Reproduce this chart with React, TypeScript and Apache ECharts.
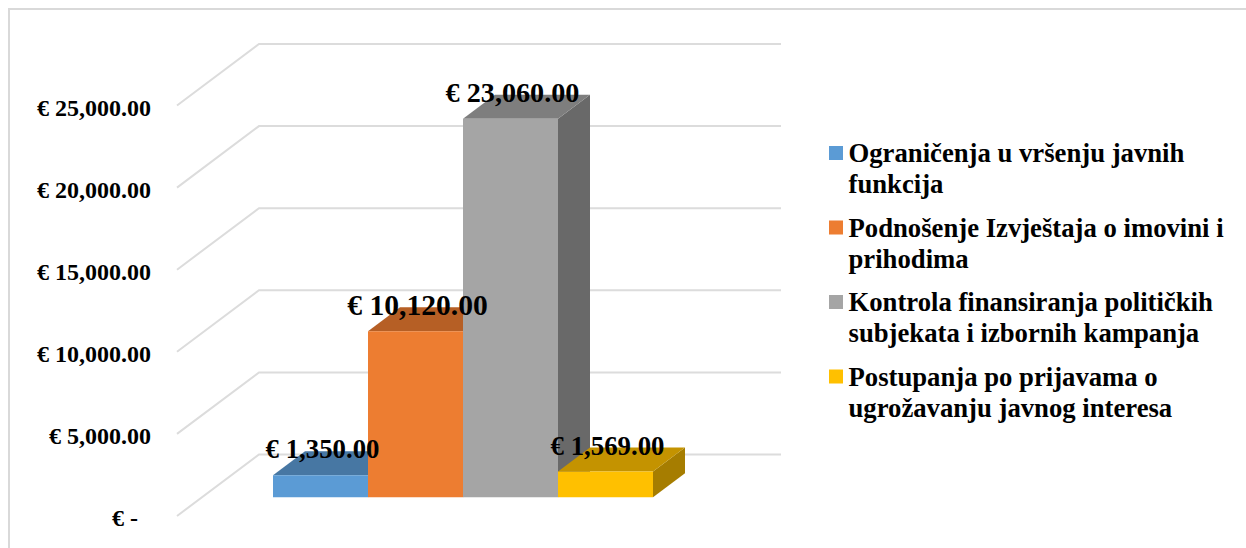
import React, { useEffect, useRef } from "react";
import * as echarts from "echarts";

const categories = ["Iznos"];
const seriesNames = [
  "Ograničenja u vršenju javnih\nfunkcija",
  "Podnošenje Izvještaja o imovini i\nprihodima",
  "Kontrola finansiranja političkih\nsubjekata i izbornih kampanja",
  "Postupanja po prijavama o\nugrožavanju javnog interesa",
];
const seriesValues = [1350, 10120, 23060, 1569];
const dataLabels = ["€ 1,350.00", "€ 10,120.00", "€ 23,060.00", "€ 1,569.00"];
const tickValues = [0, 5000, 10000, 15000, 20000, 25000];

const frontColors = ["#5b9bd5", "#ed7d31", "#a5a5a5", "#ffc000"];
const topColors = ["#4777a3", "#b65f25", "#7e7e7e", "#c49300"];
const sideColors = ["#3e6a92", "#a25421", "#696969", "#a67d00"];
const labelSizes = [26.8, 29.6, 28.2, 26.8];

const FONT = "'Liberation Serif', 'Times New Roman', serif";
const WALL_DX = 82;
const WALL_DY = -61.5;
const PLANE_DX = 25;
const PLANE_DY = -18.7;
const BAR_W = 95;
const BAR_DX = 32;
const BAR_DY = -24;

const money = (v: number) => {
  if (v === 0) return "{z|€ -}";
  return "€ " + v.toLocaleString("en-US", { minimumFractionDigits: 2, maximumFractionDigits: 2 });
};

export default function App() {
  const ref = useRef<HTMLDivElement>(null);
  useEffect(() => {
    document.body.style.margin = "0";
    const chart = echarts.init(ref.current!, undefined, { renderer: "svg" });

    const wallSeries = {
      type: "custom",
      name: "wall",
      z: 1,
      silent: true,
      coordinateSystem: "cartesian2d",
      data: tickValues.map((v) => [0, v]),
      encode: { x: 0, y: 1 },
      renderItem: (params: any, api: any) => {
        const y = api.coord([0, api.value(1)])[1];
        const x0 = params.coordSys.x;
        const x1 = x0 + params.coordSys.width;
        return {
          type: "polyline",
          shape: {
            points: [
              [x0, y],
              [x0 + WALL_DX, y + WALL_DY],
              [x1 + WALL_DX, y + WALL_DY],
            ],
          },
          style: { stroke: "#dcdcdc", lineWidth: 2, fill: "none" },
        };
      },
    };

    const barSeries = seriesNames.map((name, i) => ({
      type: "custom",
      name,
      z: 2,
      silent: true,
      coordinateSystem: "cartesian2d",
      itemStyle: { color: frontColors[i] },
      data: [[0, seriesValues[i]]],
      encode: { x: 0, y: 1 },
      renderItem: (_params: any, api: any) => {
        const top = api.coord([0, api.value(1)]);
        const base = api.coord([0, 0]);
        const xl = top[0] + PLANE_DX + (i - 2) * BAR_W;
        const xr = xl + BAR_W;
        const yt = top[1] + PLANE_DY;
        const yb = base[1] + PLANE_DY;
        return {
          type: "group",
          children: [
            {
              type: "polygon",
              shape: {
                points: [
                  [xr, yt],
                  [xr + BAR_DX, yt + BAR_DY],
                  [xr + BAR_DX, yb + BAR_DY],
                  [xr, yb],
                ],
              },
              style: { fill: sideColors[i] },
            },
            {
              type: "polygon",
              shape: {
                points: [
                  [xl, yt],
                  [xl + BAR_DX, yt + BAR_DY],
                  [xr + BAR_DX, yt + BAR_DY],
                  [xr, yt],
                ],
              },
              style: { fill: topColors[i] },
            },
            {
              type: "rect",
              shape: { x: xl, y: yt, width: BAR_W, height: yb - yt },
              style: { fill: frontColors[i] },
            },
            {
              type: "text",
              z2: 100,
              style: {
                x: xl + BAR_W / 2 + 2,
                y: yt - 26,
                text: dataLabels[i],
                fill: "#000",
                font: `bold ${labelSizes[i]}px ${FONT}`,
                align: "center",
                verticalAlign: "middle",
              },
            },
          ],
        };
      },
    }));

    chart.setOption({
      animation: false,
      backgroundColor: "#fff",
      tooltip: { show: false },
      grid: { left: 177, width: 522, top: 105.5, bottom: 32, containLabel: false },
      xAxis: { type: "category", data: categories, show: false },
      yAxis: {
        type: "value",
        min: 0,
        max: 25000,
        interval: 5000,
        axisLine: { show: false },
        axisTick: { show: false },
        splitLine: { show: false },
        axisLabel: {
          margin: 26,
          color: "#000",
          fontFamily: FONT,
          fontWeight: "bold",
          fontSize: 24,
          padding: [4, 0, 0, 0],
          formatter: money,
          rich: {
            z: {
              color: "#000",
              fontFamily: FONT,
              fontWeight: "bold",
              fontSize: 24,
              padding: [0, 13, 0, 0],
            },
          },
        },
      },
      legend: {
        orient: "vertical",
        left: 829,
        top: 137.5,
        padding: 0,
        selectedMode: false,
        data: seriesNames,
        itemWidth: 14,
        itemHeight: 62,
        itemGap: 12.5,
        icon: "path://M0,8.5H14V22.5H0Z M0,0L0,0Z M0,62L0,62Z",
        textStyle: {
          color: "#000",
          fontFamily: FONT,
          fontWeight: "bold",
          fontSize: 26.7,
          lineHeight: 31,
          padding: [0, 0, 0, 0.5],
        },
      },
      graphic: [
        {
          type: "polyline",
          silent: true,
          shape: { points: [[9, 548], [9, 9], [1246, 9]] },
          style: { stroke: "#d9d9d9", lineWidth: 2, fill: "none" },
        },
      ],
      series: [wallSeries, ...barSeries],
    });
    return () => chart.dispose();
  }, []);
  return <div ref={ref} style={{ width: 1246, height: 548 }} />;
}
